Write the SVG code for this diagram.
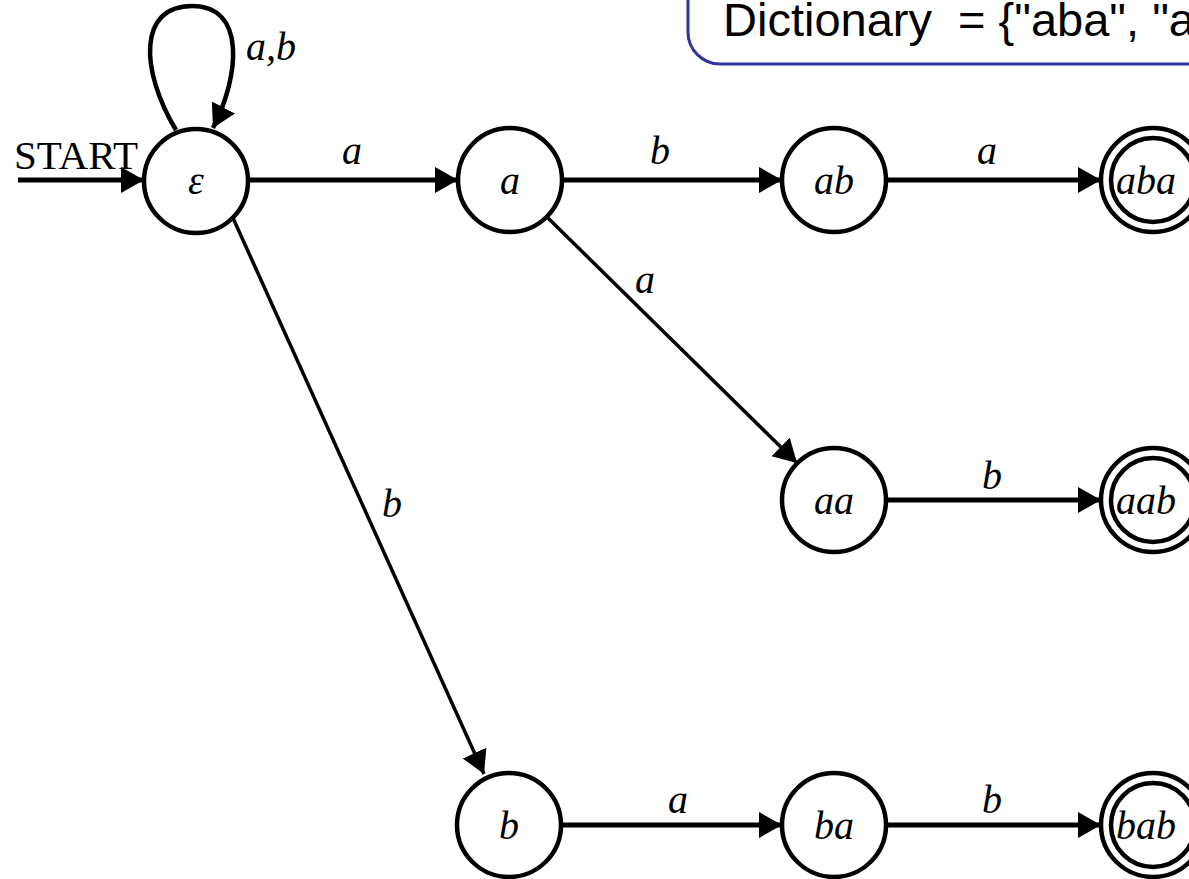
<svg xmlns="http://www.w3.org/2000/svg" width="1189" height="879" viewBox="0 0 1189 879">
<style>
.st{fill:#fff;stroke:#000;stroke-width:4.5}
.nl{font-family:"Liberation Serif",serif;font-style:italic;font-size:40px;text-anchor:middle;fill:#000}
.el{font-family:"Liberation Serif",serif;font-style:italic;font-size:40px;text-anchor:middle;fill:#000}
.ed{fill:none;stroke:#000;stroke-width:5;marker-end:url(#ah)}
.ed3{fill:none;stroke:#000;stroke-width:3.5;marker-end:url(#ah)}
</style>
<defs>
<marker id="ah" markerUnits="userSpaceOnUse" markerWidth="26" markerHeight="28" refX="23" refY="13" orient="auto">
<path d="M0,0 L23,13 L0,26 Z" fill="#000"/>
</marker>
</defs>
<g id="dictionary">
<rect x="688" y="-60" width="620" height="124" rx="32" fill="#fff" stroke="#333399" stroke-width="3"/>
<text x="723" y="36" xml:space="preserve" font-family="Liberation Sans, Arial, sans-serif" font-size="47" fill="#000">Dictionary  = {"aba", "a</text>
</g>
<g id="connectors">
<path class="ed" d="M18,180 L144,180"/>
<text x="14" y="169" font-family="Liberation Serif, serif" font-size="41" fill="#000">START</text>
<path class="ed" style="stroke-width:4.5" d="M176,130 C140,70 138,6 192,6 C246,6 240,75 213,128"/>
<text class="el" x="246" y="60" style="text-anchor:start">a,b</text>
<path class="ed" d="M248,180 L458,180"/>
<text class="el" x="352" y="164">a</text>
<path class="ed" d="M562,180 L782,180"/>
<text class="el" x="660" y="164">b</text>
<path class="ed" d="M886,180 L1101,180"/>
<text class="el" x="987" y="164">a</text>
<path class="ed3" d="M547,217 L797,463"/>
<text class="el" x="645" y="293">a</text>
<path class="ed3" d="M233,218 L484,774"/>
<text class="el" x="392" y="517">b</text>
<path class="ed" d="M886,500 L1101,500"/>
<text class="el" x="992" y="489">b</text>
<path class="ed" d="M561,825 L782,825"/>
<text class="el" x="678" y="813">a</text>
<path class="ed" d="M886,825 L1101,825"/>
<text class="el" x="992" y="813">b</text>
</g>
<g id="n-eps"><circle class="st" cx="196" cy="181" r="52"/><text class="nl" x="196" y="194">ε</text></g>
<g id="n-a"><circle class="st" cx="510" cy="180" r="52"/><text class="nl" x="510" y="194">a</text></g>
<g id="n-ab"><circle class="st" cx="834" cy="180" r="52"/><text class="nl" x="834" y="194">ab</text></g>
<g id="n-aba"><circle class="st" cx="1153" cy="180" r="52"/><circle class="st" cx="1153" cy="180" r="42"/><text class="nl" x="1146" y="194">aba</text></g>
<g id="n-aa"><circle class="st" cx="834" cy="500" r="52"/><text class="nl" x="834" y="514">aa</text></g>
<g id="n-aab"><circle class="st" cx="1153" cy="500" r="52"/><circle class="st" cx="1153" cy="500" r="42"/><text class="nl" x="1146" y="514">aab</text></g>
<g id="n-b"><circle class="st" cx="509" cy="825" r="52"/><text class="nl" x="509" y="839">b</text></g>
<g id="n-ba"><circle class="st" cx="834" cy="825" r="52"/><text class="nl" x="834" y="839">ba</text></g>
<g id="n-bab"><circle class="st" cx="1153" cy="825" r="52"/><circle class="st" cx="1153" cy="825" r="42"/><text class="nl" x="1146" y="839">bab</text></g>
</svg>
